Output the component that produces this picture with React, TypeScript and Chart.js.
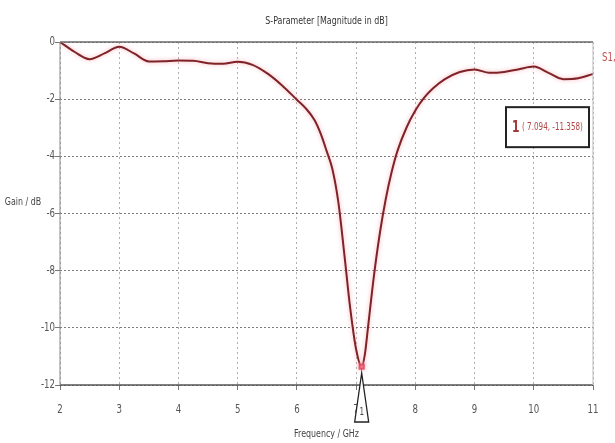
import React, { useEffect, useRef } from "react";
import { Chart, registerables } from "chart.js";

Chart.register(...registerables);

const frequencies = [2, 2.25, 2.5, 2.75, 3, 3.25, 3.5, 3.75, 4, 4.25, 4.5, 4.75, 5, 5.25, 5.5, 5.75, 6, 6.15, 6.3, 6.4, 6.5, 6.6, 6.7, 6.8, 6.9, 7.0, 7.094, 7.15, 7.2, 7.3, 7.4, 7.5, 7.6, 7.7, 7.85, 8.0, 8.15, 8.3, 8.5, 8.75, 9, 9.25, 9.5, 9.75, 10, 10.25, 10.5, 10.75, 11];
const s11 = [0, -0.35, -0.6, -0.4, -0.17, -0.4, -0.68, -0.67, -0.65, -0.66, -0.74, -0.76, -0.69, -0.8, -1.1, -1.52, -2.02, -2.32, -2.74, -3.2, -3.8, -4.45, -5.6, -7.4, -9.3, -10.75, -11.358, -10.9, -10.0, -8.2, -6.7, -5.5, -4.55, -3.8, -3.0, -2.4, -1.95, -1.62, -1.3, -1.05, -0.96, -1.08, -1.05, -0.95, -0.86, -1.08, -1.3, -1.27, -1.12];
const xTicks = [2, 3, 4, 5, 6, 7, 8, 9, 10, 11];
const yTicks = [0, -2, -4, -6, -8, -10, -12];
const markerFreq = 7.094;
const markerValue = -11.358;

const title = "S-Parameter [Magnitude in dB]";
const xTitle = "Frequency / GHz";
const yTitle = "Gain / dB";
const seriesLabel = "S1,1";

const FONT = "'DejaVu Sans', sans-serif";
const NARROW = 0.72;

function narrowText(ctx: any, text: string, x: number, y: number, align: string, size: number, color: string, bold = false) {
  ctx.save();
  ctx.font = `${bold ? "bold " : ""}${size}px ${FONT}`;
  ctx.fillStyle = color;
  ctx.textBaseline = "middle";
  ctx.textAlign = align;
  ctx.translate(x, y);
  ctx.scale(NARROW, 1);
  ctx.fillText(text, 0, 0);
  ctx.restore();
}

export default function App() {
  const ref = useRef<HTMLCanvasElement | null>(null);
  useEffect(() => {
    document.body.style.margin = "0";
    const canvas = ref.current;
    if (!canvas) return;
    const minIdx = frequencies.indexOf(markerFreq);

    const glow = {
      id: "glow",
      beforeDatasetsDraw(chart: any) {
        chart.ctx.save();
        chart.ctx.shadowColor = "rgba(250,165,175,0.9)";
        chart.ctx.shadowBlur = 4;
      },
      afterDatasetsDraw(chart: any) {
        chart.ctx.restore();
      },
    };

    const deco = {
      id: "deco",
      afterDraw(chart: any) {
        const ctx = chart.ctx;
        const a = chart.chartArea;
        const xs = chart.scales.x;
        const ys = chart.scales.y;
        ctx.save();
        ctx.lineWidth = 1.5;
        ctx.strokeStyle = "#6a6a6a";
        ctx.beginPath();
        ctx.moveTo(a.left, a.top);
        ctx.lineTo(a.right, a.top);
        ctx.stroke();
        ctx.strokeStyle = "#555";
        ctx.beginPath();
        ctx.moveTo(a.left, a.bottom);
        ctx.lineTo(a.right, a.bottom);
        ctx.stroke();
        ctx.lineWidth = 1;
        ctx.strokeStyle = "#888";
        ctx.beginPath();
        ctx.moveTo(a.left, a.top);
        ctx.lineTo(a.left, a.bottom);
        ctx.stroke();
        ctx.strokeStyle = "#bbb";
        ctx.beginPath();
        ctx.moveTo(a.right, a.top);
        ctx.lineTo(a.right, a.bottom);
        ctx.stroke();
        ctx.restore();

        xTicks.forEach((v) => narrowText(ctx, String(v), xs.getPixelForValue(v), a.bottom + 25, "center", 12, "#555"));
        yTicks.forEach((v) => narrowText(ctx, String(v), a.left - 5, ys.getPixelForValue(v), "right", 12, "#555"));

        const cx = (a.left + a.right) / 2;
        narrowText(ctx, title, cx, 21, "center", 11, "#333");
        narrowText(ctx, xTitle, cx, 434, "center", 11, "#444");
        narrowText(ctx, yTitle, 23, ys.getPixelForValue(-5.6), "center", 11, "#444");

        narrowText(ctx, seriesLabel, a.right + 9, ys.getPixelForValue(-0.55), "left", 12, "#c0504d");

        const bx = a.right - 87;
        const by = ys.getPixelForValue(-2) + 8;
        const bw = 83;
        const bh = 40;
        ctx.save();
        ctx.fillStyle = "#fff";
        ctx.fillRect(bx, by, bw, bh);
        ctx.lineWidth = 2;
        ctx.strokeStyle = "#222";
        ctx.strokeRect(bx, by, bw, bh);
        ctx.restore();
        narrowText(ctx, "1", bx + 6, by + bh / 2 + 1, "left", 15, "#a03838", true);
        narrowText(ctx, `( ${markerFreq.toFixed(3)}, ${markerValue.toFixed(3)})`, bx + 16, by + bh / 2, "left", 10, "#b04444");

        const mx = xs.getPixelForValue(markerFreq);
        ctx.save();
        ctx.beginPath();
        ctx.moveTo(mx, a.bottom - 12);
        ctx.lineTo(mx + 7, a.bottom + 37);
        ctx.lineTo(mx - 7, a.bottom + 37);
        ctx.closePath();
        ctx.fillStyle = "#fff";
        ctx.fill();
        ctx.lineWidth = 1.3;
        ctx.strokeStyle = "#222";
        ctx.stroke();
        ctx.restore();
        narrowText(ctx, "1", mx, a.bottom + 27, "center", 10, "#444");
      },
    };

    const chart = new Chart(canvas, {
      type: "line",
      data: {
        datasets: [
          {
            label: seriesLabel,
            data: frequencies.map((f, i) => ({ x: f, y: s11[i] })),
            borderColor: "#7e2428",
            borderWidth: 2,
            cubicInterpolationMode: "monotone",
            pointRadius: (c: any) => (c.dataIndex === minIdx ? 3 : 0),
            pointStyle: "rect",
            pointBackgroundColor: "rgba(240,110,130,0.8)",
            pointBorderColor: "rgba(220,70,90,0.8)",
            fill: false,
          },
        ],
      },
      options: {
        responsive: false,
        animation: false,
        layout: { padding: { top: 42, right: 22, left: 0, bottom: 0 } },
        plugins: { legend: { display: false }, tooltip: { enabled: false }, title: { display: false } },
        scales: {
          x: {
            type: "linear",
            min: 2,
            max: 11,
            afterBuildTicks: (s: any) => {
              s.ticks = xTicks.map((v) => ({ value: v }));
            },
            afterFit: (s: any) => {
              s.height = 58;
            },
            ticks: { display: false },
            grid: { color: "rgba(120,120,120,0.6)", tickLength: 5, tickColor: "#777", drawOnChartArea: true },
            border: { display: false, dash: [2, 3] },
          },
          y: {
            type: "linear",
            min: -12,
            max: 0,
            afterBuildTicks: (s: any) => {
              s.ticks = yTicks.map((v) => ({ value: v }));
            },
            afterFit: (s: any) => {
              s.width = 60;
            },
            ticks: { display: false },
            grid: { color: "rgba(80,80,80,0.75)", tickLength: 5, tickColor: "#777" },
            border: { display: false, dash: [2, 2] },
          },
        },
      },
      plugins: [glow, deco],
    } as any);
    return () => chart.destroy();
  }, []);
  return (
    <div style={{ width: 615, height: 443, background: "#fff" }}>
      <canvas ref={ref} width={615} height={443} />
    </div>
  );
}
